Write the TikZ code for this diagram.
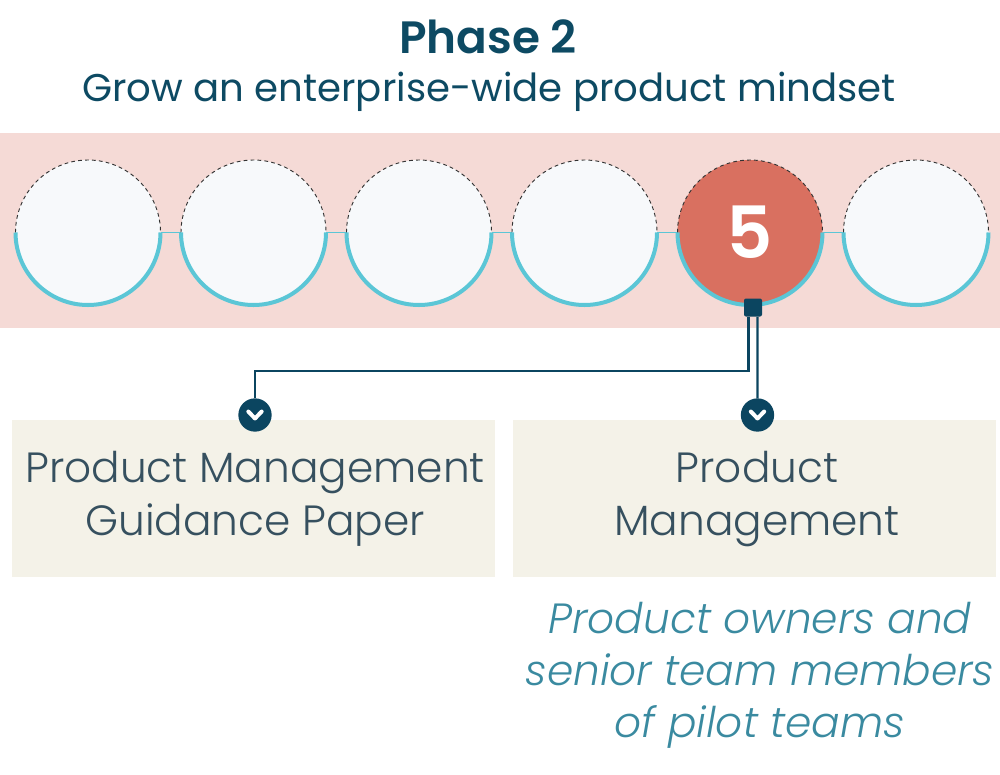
\documentclass[tikz,border=0pt]{standalone}
\usepackage{fontspec}
\setmainfont{Poppins}
\newfontfamily\titlefont{Poppins SemiBold}
\newfontfamily\lightfont{Poppins Light}[ItalicFont={Poppins Light Italic}]
\usetikzlibrary{calc}
\definecolor{band}{HTML}{F5DAD6}
\definecolor{stagefill}{HTML}{F7F9FB}
\definecolor{cyanline}{HTML}{5BC6D6}
\definecolor{coral}{HTML}{D97060}
\definecolor{darkteal}{HTML}{0B4560}
\definecolor{titleteal}{HTML}{0D4A63}
\definecolor{boxfill}{HTML}{F4F2E8}
\definecolor{boxtext}{HTML}{36505F}
\definecolor{notetext}{HTML}{3A8AA0}
\begin{document}
\begin{tikzpicture}[x=0.75pt,y=-0.75pt,
  stage/.style={circle,fill=stagefill,minimum size=108.75pt,inner sep=0pt,outer sep=0pt},
  lowerarc/.style={draw=cyanline,line width=3pt},
  upperarc/.style={draw=black!80,line width=0.7pt,dash pattern=on 2.8pt off 2.4pt},
  link/.style={draw=cyanline,line width=1.2pt},
  hub/.style={rectangle,rounded corners=1.5pt,fill=darkteal,minimum size=13.5pt,inner sep=0pt},
  chevnode/.style={circle,fill=darkteal,minimum size=25pt,inner sep=0pt,outer sep=0pt,
    path picture={\draw[white,line width=3pt,line cap=round,line join=round]
      ([xshift=-5pt,yshift=2.6pt]path picture bounding box.center) --
      ([yshift=-2.6pt]path picture bounding box.center) --
      ([xshift=5pt,yshift=2.6pt]path picture bounding box.center);}},
  conn/.style={draw=darkteal,line width=1.6pt},
  box/.style={rectangle,fill=boxfill,minimum width=362.25pt,minimum height=117.75pt,inner sep=0pt},
  boxlabel/.style={text=boxtext,align=center,font=\lightfont\fontsize{31.7}{39.75}\selectfont},
  notelabel/.style={text=notetext,align=center,font=\lightfont\itshape\fontsize{31.7}{39}\selectfont}
]
\useasboundingbox (0,0) rectangle (1000,775);
% title
\node[text=titleteal,font=\titlefont\fontsize{34}{40}\selectfont,anchor=base] (title) at (488,53) {Phase 2};
\node[text=titleteal,font=\fontsize{29}{36}\selectfont,anchor=base] (subtitle) at (489,101.5) {Grow an enterprise-wide product mindset};
% band
\fill[band] (0,133) rectangle (1000,328);
% stages
\node[stage] (c1) at (88,232.5) {};
\node[stage] (c2) at (253.5,232.5) {};
\node[stage] (c3) at (419,232.5) {};
\node[stage] (c4) at (584.5,232.5) {};
\node[stage,fill=coral,text=white,font=\titlefont\fontsize{54}{54}\selectfont] (c5) at (750,232.5) {5};
\node[stage] (c6) at (916,232.5) {};
\foreach \a/\b in {c1/c2,c2/c3,c3/c4,c4/c5,c5/c6}{\draw[link] (\a.east) -- (\b.west);}
\foreach \c in {c1,c2,c3,c4,c5,c6}{
  \draw[upperarc] (\c.west) arc[start angle=180,end angle=0,radius=54.375pt];
  \draw[lowerarc] (\c.west) arc[start angle=180,end angle=360,radius=54.375pt];
}
% boxes
\node[box] (b1) at (253.5,498.5) {};
\node[box] (b2) at (754,498.5) {};
\node[boxlabel,anchor=base] (t1a) at (255,482) {Product Management};
\node[boxlabel,anchor=base] (t1b) at (255,535) {Guidance Paper};
\node[boxlabel,anchor=base] (t2a) at (757,482) {Product};
\node[boxlabel,anchor=base] (t2b) at (757,535) {Management};
% hub and connectors
\node[hub] (sq) at (753,307.5) {};
\node[chevnode] (ch1) at (255,415) {};
\node[chevnode] (ch2) at (757.5,415) {};
\draw[conn] ([xshift=-3.4pt]sq.south) -- ++(0,54.5) -| (ch1.north);
\draw[conn] ([xshift=3.4pt]sq.south) -- (ch2.north);
% note
\node[notelabel,anchor=base] (n1) at (760,633) {Product owners and};
\node[notelabel,anchor=base] (n2) at (760,685) {senior team members};
\node[notelabel,anchor=base] (n3) at (760,737) {of pilot teams};
\end{tikzpicture}
\end{document}
